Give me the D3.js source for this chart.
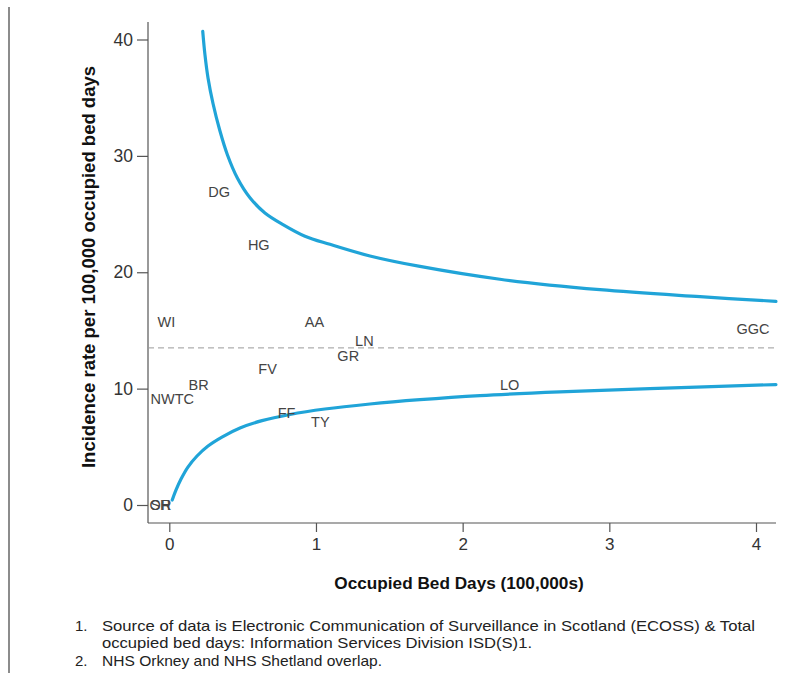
<!DOCTYPE html>
<html>
<head>
<meta charset="utf-8">
<script src="https://cdn.jsdelivr.net/npm/d3@7"></script>
<style>
  html, body { margin: 0; padding: 0; background: #fff; }
  svg { display: block; font-family: "Liberation Sans", Arial, Helvetica, sans-serif; }
</style>
</head>
<body>
<svg id="chart" width="792" height="673"></svg>
<script>
// Health board labels and their positions (occupied bed days in 100,000s, incidence rate)
const boards = ["DG", "HG", "WI", "AA", "LN", "GR", "FV", "BR", "NWTC", "FF", "TY", "LO", "GGC", "OR", "SH"];
const bedDays = [0.34, 0.61, -0.02, 0.99, 1.33, 1.22, 0.67, 0.20, 0.02, 0.80, 1.03, 2.32, 3.98, -0.06, -0.06];
const rates   = [26.9, 22.3, 15.7, 15.7, 14.1, 12.8, 11.7, 10.3, 9.1, 7.9, 7.1, 10.3, 15.1, 0.0, 0.0];

// Scotland mean incidence rate
const meanRate = 13.5;

// Upper control limit
const upperX = [0.228, 0.243, 0.264, 0.298, 0.344, 0.396, 0.464, 0.550, 0.652, 0.775, 0.925, 1.095, 1.368, 1.709, 2.254, 2.936, 3.618, 4.136];
const upperY = [40.7, 38.7, 36.7, 34.5, 32.2, 30.1, 28.1, 26.4, 25.1, 24.1, 23.1, 22.4, 21.4, 20.5, 19.4, 18.5, 17.9, 17.5];

// Lower control limit
const lowerX = [0.020, 0.046, 0.080, 0.127, 0.189, 0.264, 0.359, 0.482, 0.632, 0.823, 1.061, 1.368, 1.709, 2.118, 2.663, 3.276, 4.136];
const lowerY = [0.43, 1.29, 2.23, 3.26, 4.21, 5.07, 5.84, 6.62, 7.25, 7.78, 8.25, 8.68, 9.05, 9.40, 9.72, 10.0, 10.35];

// Ticks
const xTicks = [0, 1, 2, 3, 4];
const yTicks = [0, 10, 20, 30, 40];

const xTitle = "Occupied Bed Days (100,000s)";
const yTitle = "Incidence rate per 100,000 occupied bed days";
const notes = [
  ["1.", "Source of data is Electronic Communication of Surveillance in Scotland (ECOSS) & Total"],
  ["",   "occupied bed days: Information Services Division ISD(S)1."],
  ["2.", "NHS Orkney and NHS Shetland overlap."]
];

const svg = d3.select("#chart");

const x = d3.scaleLinear().domain([0, 4]).range([169.3, 756]);
const y = d3.scaleLinear().domain([0, 40]).range([505, 39.5]);

const axisX0 = 148, axisY0 = 523, plotRight = 776, plotTop = 22;

// Left page border
svg.append("line").attr("x1", 9).attr("x2", 9).attr("y1", 7).attr("y2", 673)
  .attr("stroke", "#666").attr("stroke-width", 1.5);

// Axis lines
svg.append("line").attr("x1", axisX0).attr("x2", axisX0).attr("y1", plotTop).attr("y2", axisY0)
  .attr("stroke", "#555").attr("stroke-width", 1.2);
svg.append("line").attr("x1", axisX0).attr("x2", plotRight).attr("y1", axisY0).attr("y2", axisY0)
  .attr("stroke", "#555").attr("stroke-width", 1.2);

// Y axis
const yAxis = svg.append("g").attr("transform", `translate(${axisX0},0)`)
  .call(d3.axisLeft(y).tickValues(yTicks).tickFormat(d3.format("d")).tickSize(11).tickPadding(4).tickSizeOuter(0));
yAxis.select(".domain").remove();
yAxis.selectAll(".tick line").attr("stroke", "#555").attr("stroke-width", 1.2);
yAxis.selectAll(".tick text").attr("fill", "#333").style("font-size", "17.5px")
  .style("font-family", "'Liberation Sans', Arial, sans-serif");

// X axis
const xAxis = svg.append("g").attr("transform", `translate(0,${axisY0})`)
  .call(d3.axisBottom(x).tickValues(xTicks).tickFormat(d3.format("d")).tickSize(9).tickPadding(6).tickSizeOuter(0));
xAxis.select(".domain").remove();
xAxis.selectAll(".tick line").attr("stroke", "#555").attr("stroke-width", 1.2);
xAxis.selectAll(".tick text").attr("fill", "#333").style("font-size", "17px")
  .style("font-family", "'Liberation Sans', Arial, sans-serif");

// Mean line (dashed)
svg.append("line").attr("x1", axisX0).attr("x2", plotRight)
  .attr("y1", y(meanRate)).attr("y2", y(meanRate))
  .attr("stroke", "#999").attr("stroke-width", 1).attr("stroke-dasharray", "6,4");

// Control limits
const line = d3.line().x(d => x(d[0])).y(d => y(d[1])).curve(d3.curveCatmullRom.alpha(0.5));
svg.append("path").datum(upperX.map((v, i) => [v, upperY[i]]))
  .attr("d", line).attr("fill", "none").attr("stroke", "#20a4d8").attr("stroke-width", 3.2)
  .attr("stroke-linecap", "round");
svg.append("path").datum(lowerX.map((v, i) => [v, lowerY[i]]))
  .attr("d", line).attr("fill", "none").attr("stroke", "#20a4d8").attr("stroke-width", 3.2)
  .attr("stroke-linecap", "round");

// Board labels
svg.append("g").selectAll("text").data(boards).join("text")
  .attr("x", (d, i) => x(bedDays[i]))
  .attr("y", (d, i) => y(rates[i]))
  .attr("text-anchor", "middle").attr("dominant-baseline", "central")
  .attr("fill", "#444").style("font-size", "14.5px")
  .text(d => d);

// Axis titles
svg.append("text").attr("x", 459).attr("y", 583)
  .attr("text-anchor", "middle").attr("dominant-baseline", "central")
  .attr("fill", "#111").style("font-size", "17.2px").style("font-weight", "bold")
  .text(xTitle);
svg.append("text").attr("transform", "translate(88,267) rotate(-90)")
  .attr("text-anchor", "middle").attr("dominant-baseline", "central")
  .attr("fill", "#111").style("font-size", "18.5px").style("font-weight", "bold")
  .text(yTitle);

// Footnotes
const noteY = [625, 642.5, 660];
const noteLen = [653, 430, 280];
notes.forEach((n, i) => {
  if (n[0]) svg.append("text").attr("x", 75).attr("y", noteY[i]).attr("dominant-baseline", "central")
    .attr("fill", "#222").style("font-size", "15px").text(n[0]);
  svg.append("text").attr("x", 102).attr("y", noteY[i]).attr("dominant-baseline", "central")
    .attr("fill", "#222").style("font-size", "15px")
    .attr("textLength", noteLen[i]).attr("lengthAdjust", "spacingAndGlyphs")
    .text(n[1]);
});
</script>
</body>
</html>
